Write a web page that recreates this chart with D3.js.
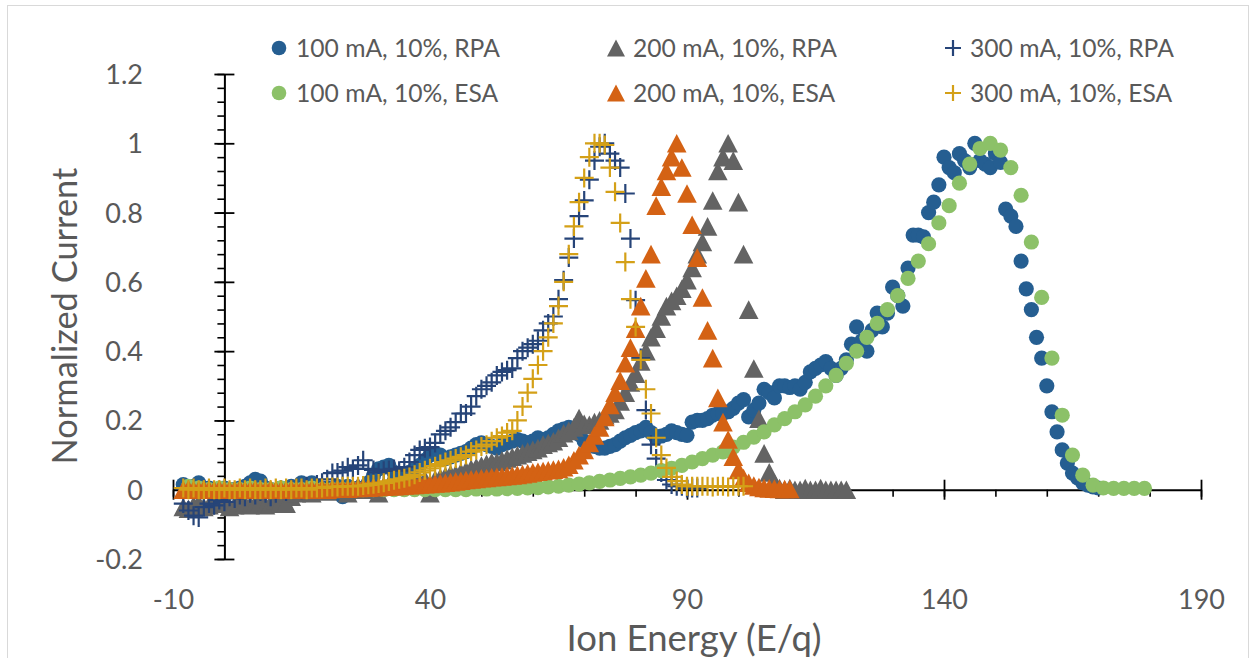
<!DOCTYPE html>
<html>
<head>
<meta charset="utf-8">
<script src="https://cdn.jsdelivr.net/npm/d3@7"></script>
<style>
  html, body { margin: 0; padding: 0; background: #fff; }
  svg { display: block; font-family: Lato, "Open Sans", sans-serif; }
</style>
</head>
<body>
<svg id="chart" width="1253" height="658"></svg>
<script>
// ---- Axis ticks ----
const xTicks = [-10, 40, 90, 140, 190];
const xTickLabels = ["-10", "40", "90", "140", "190"];
const xMinorTicks = [-10, 0, 10, 20, 30, 40, 50, 60, 70, 80, 90, 100, 110, 120, 130, 140, 150, 160, 170, 180, 190];
const yTicks = [-0.2, 0, 0.2, 0.4, 0.6, 0.8, 1, 1.2];
const yTickLabels = ["-0.2", "0", "0.2", "0.4", "0.6", "0.8", "1", "1.2"];
const yMinorTicks = [-0.2, -0.16, -0.12, -0.08, -0.04, 0, 0.04, 0.08, 0.12, 0.16, 0.2, 0.24, 0.28, 0.32, 0.36,
  0.4, 0.44, 0.48, 0.52, 0.56, 0.6, 0.64, 0.68, 0.72, 0.76, 0.8, 0.84, 0.88, 0.92, 0.96, 1, 1.04, 1.08, 1.12, 1.16, 1.2];

// ---- Energy sweeps: first energy and step (E/q) ----
const rpa100Start = -8, rpa100Step = 1;
const esa100Start = -7, esa100Step = 2;
const rpa200Start = -8, rpa200Step = 1;
const esa200Start = -8, esa200Step = 1;
const rpa300Start = -8, rpa300Step = 1;
const esa300Start = -8, esa300Step = 1;

// ---- Normalized current ----
const rpa100 = [
  0.015, 0.005, 0.01, 0.02, 0.0, 0.005, 0.0, -0.005, 0.005, 0.0,
  0.0, 0.005, 0.01, 0.02, 0.03, 0.025, 0.005, 0.0, -0.005, 0.005,
  0.0, 0.01, 0.0, 0.02, 0.015, 0.02, 0.01, 0.0, 0.005, 0.0,
  0.01, -0.02, 0.01, 0.0, 0.005, -0.005, 0.02, 0.04, 0.06, 0.065,
  0.07, 0.05, 0.04, 0.045, 0.05, 0.06, 0.07, 0.085, 0.1, 0.105,
  0.1, 0.09, 0.095, 0.1, 0.105, 0.11, 0.12, 0.13, 0.135, 0.13,
  0.125, 0.12, 0.13, 0.135, 0.14, 0.145, 0.14, 0.135, 0.14, 0.15,
  0.145, 0.15, 0.16, 0.17, 0.175, 0.18, 0.17, 0.16, 0.14, 0.13,
  0.125, 0.12, 0.12, 0.125, 0.13, 0.14, 0.15, 0.157, 0.165, 0.17,
  0.18, 0.165, 0.15, 0.155, 0.16, 0.17, 0.165, 0.16, 0.157, 0.195,
  0.2, 0.2, 0.205, 0.215, 0.22, 0.22, 0.225, 0.235, 0.25, 0.26,
  0.21, 0.23, 0.25, 0.29, 0.28, 0.265, 0.3, 0.3, 0.295, 0.3,
  0.29, 0.31, 0.34, 0.35, 0.36, 0.37, 0.35, 0.33, 0.35, 0.375,
  0.42, 0.47, 0.43, 0.4, 0.46, 0.51, 0.47, 0.51, 0.585, 0.56,
  0.53, 0.64, 0.735, 0.735, 0.73, 0.8, 0.83, 0.88, 0.96, 0.93,
  0.915, 0.97, 0.95, 0.93, 1.0, 0.95, 0.94, 0.93, 0.97, 0.945,
  0.81, 0.79, 0.76, 0.66, 0.58, 0.52, 0.44, 0.38, 0.3, 0.225,
  0.167, 0.115, 0.077, 0.048, 0.034, 0.02, 0.013, 0.008, 0.005
];
const esa100 = [
  0.01, 0.005, 0.0, 0.005, 0.0, 0.0, 0.005, 0.0, 0.0, 0.005,
  0.0, 0.0, 0.005, 0.0, 0.0, 0.0, 0.0, 0.0, 0.0, 0.0,
  0.0, 0.0, 0.0, 0.0, 0.0, 0.0, 0.0, 0.0, 0.002, 0.002,
  0.002, 0.003, 0.004, 0.005, 0.006, 0.008, 0.01, 0.013, 0.016, 0.02,
  0.024, 0.028, 0.033, 0.037, 0.042, 0.048, 0.055, 0.062, 0.07, 0.08,
  0.09, 0.1, 0.109, 0.123, 0.137, 0.152, 0.167, 0.187, 0.205, 0.225,
  0.245, 0.27, 0.3, 0.33, 0.365, 0.4, 0.44, 0.48, 0.52, 0.56,
  0.61, 0.66, 0.71, 0.77, 0.82, 0.885, 0.94, 0.985, 1.0, 0.98,
  0.93, 0.85, 0.715, 0.555, 0.38, 0.215, 0.1, 0.042, 0.013, 0.005,
  0.004, 0.004, 0.004, 0.004
];
const rpa200 = [
  -0.05, -0.055, -0.045, -0.04, -0.05, -0.045, -0.04, -0.035, -0.04, -0.05,
  -0.045, -0.035, -0.04, -0.045, -0.04, -0.035, -0.045, -0.04, -0.03, -0.035,
  -0.04, -0.02, -0.01, -0.005, 0.0, -0.01, 0.0, 0.005, -0.005, 0.0,
  0.005, 0.0, -0.01, 0.005, 0.01, 0.0, 0.005, 0.01, -0.01, 0.01,
  0.015, 0.01, 0.02, 0.015, 0.02, 0.025, 0.02, 0.03, -0.01, 0.03,
  0.035, 0.04, 0.045, 0.045, 0.05, 0.055, 0.06, 0.065, 0.07, 0.075,
  0.08, 0.08, 0.085, 0.09, 0.095, 0.1, 0.105, 0.11, 0.115, 0.12,
  0.13, 0.135, 0.14, 0.15, 0.163, 0.17, 0.18, 0.207, 0.19, 0.187,
  0.195, 0.2, 0.215, 0.22, 0.23, 0.255, 0.28, 0.31, 0.335, 0.37,
  0.4, 0.44, 0.465, 0.5, 0.53, 0.545, 0.56, 0.58, 0.605, 0.64,
  0.68, 0.715, 0.76, 0.835, 0.92, 0.96, 1.0, 0.95, 0.83, 0.68,
  0.52, 0.35, 0.205, 0.105, 0.05, 0.02, 0.005, 0.0, 0.005, 0.0,
  0.0, 0.005, 0.0, 0.0, 0.005, 0.0, 0.0, 0.0, 0.0, 0.0
];
const esa200 = [
  0.0, 0.002, 0.0, 0.0, 0.002, 0.0, 0.0, 0.002, 0.0, 0.0,
  0.0, 0.002, 0.0, 0.0, 0.002, 0.0, 0.0, 0.002, 0.0, 0.0,
  0.0, 0.002, 0.0, 0.002, 0.0, 0.002, 0.0, 0.003, 0.0, 0.003,
  0.003, 0.004, 0.003, 0.005, 0.005, 0.006, 0.006, 0.007, 0.008, 0.009,
  0.01, 0.01, 0.011, 0.012, 0.013, 0.014, 0.015, 0.016, 0.017, 0.018,
  0.019, 0.02, 0.022, 0.024, 0.026, 0.028, 0.03, 0.031, 0.033, 0.034,
  0.036, 0.037, 0.038, 0.04, 0.041, 0.043, 0.045, 0.047, 0.05, 0.052,
  0.054, 0.056, 0.058, 0.06, 0.065, 0.072, 0.085, 0.1, 0.115, 0.135,
  0.157, 0.18, 0.21, 0.245, 0.28, 0.315, 0.365, 0.41, 0.465, 0.53,
  0.61, 0.68, 0.82, 0.875, 0.92, 0.96, 1.0, 0.93, 0.855, 0.765,
  0.67, 0.555, 0.46, 0.38, 0.265, 0.195, 0.145, 0.095, 0.057, 0.034,
  0.02, 0.012, 0.008, 0.005, 0.004, 0.003, 0.002, 0.002, 0.002
];
const rpa300 = [
  -0.04, -0.06, -0.075, -0.08, -0.05, -0.04, -0.045, -0.03, -0.035, -0.02,
  -0.025, -0.015, -0.02, -0.01, -0.015, -0.005, -0.01, -0.02, -0.01, 0.0,
  -0.005, 0.0, 0.005, 0.0, 0.01, 0.005, 0.015, 0.02, 0.03, 0.048,
  0.05, 0.055, 0.065, 0.06, 0.07, 0.085, 0.06, 0.057, 0.05, 0.055,
  0.057, 0.06, 0.055, 0.065, 0.08, 0.1, 0.115, 0.12, 0.123, 0.135,
  0.16, 0.17, 0.18, 0.195, 0.22, 0.22, 0.24, 0.27, 0.29, 0.3,
  0.31, 0.33, 0.34, 0.345, 0.35, 0.38, 0.4, 0.41, 0.42, 0.43,
  0.46, 0.48, 0.5, 0.55, 0.605, 0.67, 0.725, 0.79, 0.835, 0.895,
  0.95, 0.99, 1.0, 0.97, 0.95, 0.93, 0.855, 0.725, 0.547, 0.38,
  0.23, 0.13, 0.09, 0.05, 0.028, 0.015, 0.01, 0.01, 0.005, 0.005,
  0.005
];
const esa300 = [
  0.005, 0.0, 0.005, 0.0, 0.0, 0.005, 0.0, 0.0, 0.005, 0.0,
  0.0, 0.005, 0.0, 0.005, 0.0, 0.0, 0.005, 0.0, 0.005, 0.0,
  0.005, 0.0, 0.005, 0.005, 0.0, 0.005, 0.005, 0.005, 0.008, 0.008,
  0.008, 0.01, 0.01, 0.01, 0.01, 0.012, 0.014, 0.016, 0.018, 0.02,
  0.024, 0.027, 0.03, 0.033, 0.037, 0.043, 0.05, 0.056, 0.062, 0.068,
  0.074, 0.08, 0.085, 0.09, 0.095, 0.1, 0.11, 0.115, 0.125, 0.13,
  0.14, 0.15, 0.155, 0.165, 0.17, 0.2, 0.24, 0.28, 0.32, 0.36,
  0.4, 0.44, 0.48, 0.53, 0.6, 0.68, 0.76, 0.83, 0.9, 0.96,
  1.0, 1.0, 0.995, 0.93, 0.86, 0.77, 0.657, 0.55, 0.47, 0.375,
  0.29, 0.22, 0.15, 0.1, 0.063, 0.037, 0.025, 0.015, 0.01, 0.01,
  0.01, 0.01, 0.01, 0.008, 0.01, 0.01, 0.008, 0.01, 0.01, 0.01
];

// ---- Series (drawing order: later series on top) ----
const seriesNames = ["100 mA, 10%, RPA", "200 mA, 10%, RPA", "300 mA, 10%, RPA",
                     "100 mA, 10%, ESA", "200 mA, 10%, ESA", "300 mA, 10%, ESA"];
const seriesColors = ["#255E91", "#636363", "#264478", "#8CC168", "#D46214", "#D4A017"];
const seriesShapes = ["circle", "triangle", "plus", "circle", "triangle", "plus"];
const seriesValues = [rpa100, rpa200, rpa300, esa100, esa200, esa300];
const seriesStarts = [rpa100Start, rpa200Start, rpa300Start, esa100Start, esa200Start, esa300Start];
const seriesSteps = [rpa100Step, rpa200Step, rpa300Step, esa100Step, esa200Step, esa300Step];

const series = seriesNames.map((name, i) => ({
  name, color: seriesColors[i], shape: seriesShapes[i],
  points: seriesValues[i].map((v, k) => ({ e: seriesStarts[i] + k * seriesSteps[i], v }))
}));

// ---- Layout ----
const W = 1253, H = 658;
const plot = { left: 173, right: 1201, top: 74, bottom: 559 };
const textColor = "#595959";

const svg = d3.select("#chart");
const x = d3.scaleLinear().domain([-10, 190]).range([plot.left, plot.right]);
const y = d3.scaleLinear().domain([-0.2, 1.2]).range([plot.bottom, plot.top]);

// chart area frame
svg.append("rect")
  .attr("x", 7.5).attr("y", 5.5).attr("width", 1241).attr("height", 700)
  .attr("fill", "#fff").attr("stroke", "#d9d9d9").attr("stroke-width", 1);

// marker shapes
function markerPath(shape, s) {
  if (shape === "triangle") return `M0,${-s * 0.95}L${s},${s * 0.95}L${-s},${s * 0.95}Z`;
  if (shape === "plus") return `M${-s},0H${s}M0,${-s}V${s}`;
  return null;
}
function drawMarker(g, shape, color, size) {
  if (shape === "circle") {
    return g.append("circle").attr("r", size).attr("fill", color);
  } else if (shape === "triangle") {
    return g.append("path").attr("d", markerPath("triangle", size)).attr("fill", color);
  } else {
    return g.append("path").attr("d", markerPath("plus", size))
      .attr("fill", "none").attr("stroke", color).attr("stroke-width", 2.2);
  }
}

// ---- Axes (crossing at 0,0) ----
const axisColor = "#000";

// x minor ticks (below the line)
const gxMinor = svg.append("g").attr("transform", `translate(0,${y(0)})`)
  .call(d3.axisBottom(x).tickValues(xMinorTicks).tickSize(7).tickSizeOuter(0).tickFormat(""));
gxMinor.select(".domain").remove();
gxMinor.selectAll(".tick line").attr("stroke", axisColor).attr("stroke-width", 1.6);

// x major ticks (crossing)
const gx = svg.append("g").attr("transform", `translate(0,${y(0)})`)
  .call(d3.axisBottom(x).tickValues(xTicks).tickSize(10).tickSizeOuter(0).tickFormat(""));
gx.selectAll(".tick line").attr("y1", -10).attr("y2", 10).attr("stroke", axisColor).attr("stroke-width", 1.8);
gx.select(".domain").attr("stroke", axisColor).attr("stroke-width", 2);

// y minor ticks (left of the line)
const gyMinor = svg.append("g").attr("transform", `translate(${x(0)},0)`)
  .call(d3.axisLeft(y).tickValues(yMinorTicks).tickSize(7).tickSizeOuter(0).tickFormat(""));
gyMinor.select(".domain").remove();
gyMinor.selectAll(".tick line").attr("stroke", axisColor).attr("stroke-width", 1.6);

// y major ticks (crossing)
const gy = svg.append("g").attr("transform", `translate(${x(0)},0)`)
  .call(d3.axisLeft(y).tickValues(yTicks).tickSize(10).tickSizeOuter(0).tickFormat(""));
gy.selectAll(".tick line").attr("x1", -10).attr("x2", 10).attr("stroke", axisColor).attr("stroke-width", 1.8);
gy.select(".domain").attr("stroke", axisColor).attr("stroke-width", 2);

// tick labels sit at the low edges of the plot
const tickFont = 27;
const gxLab = svg.append("g").attr("transform", `translate(0,600)`)
  .call(d3.axisBottom(x).tickValues(xTicks).tickSize(0).tickSizeOuter(0)
    .tickFormat((d, i) => xTickLabels[i]));
gxLab.select(".domain").remove();
gxLab.selectAll("text").attr("y", 0).attr("dy", "0.35em")
  .attr("fill", textColor).attr("font-size", tickFont).attr("font-family", "Lato");

const gyLab = svg.append("g").attr("transform", `translate(143,0)`)
  .call(d3.axisLeft(y).tickValues(yTicks).tickSize(0).tickSizeOuter(0)
    .tickFormat((d, i) => yTickLabels[i]));
gyLab.select(".domain").remove();
gyLab.selectAll("text").attr("x", 0).attr("dy", "0.35em")
  .attr("fill", textColor).attr("font-size", tickFont).attr("font-family", "Lato");

// ---- Data marks ----
const markerSize = { circle: 7.6, triangle: 9.8, plus: 9.5 };
series.forEach(s => {
  const g = svg.append("g").attr("class", "series");
  s.points.forEach(p => {
    const m = drawMarker(g, s.shape, s.color, markerSize[s.shape]);
    if (s.shape === "circle") m.attr("cx", x(p.e)).attr("cy", y(p.v));
    else m.attr("transform", `translate(${x(p.e)},${y(p.v)})`);
  });
});

// ---- Axis titles ----
function fitFont(sel, target) {
  const w = sel.node().getComputedTextLength();
  const fs = parseFloat(sel.attr("font-size"));
  sel.attr("font-size", fs * target / w);
}
const xTitle = svg.append("text")
  .attr("x", 694).attr("y", 638).attr("dy", "0.35em")
  .attr("text-anchor", "middle").attr("fill", textColor).attr("font-size", 36)
  .text("Ion Energy (E/q)");
fitFont(xTitle, 255);

const yTitle = svg.append("text")
  .attr("transform", "translate(65,316) rotate(-90)").attr("dy", "0.35em")
  .attr("text-anchor", "middle").attr("fill", textColor).attr("font-size", 36)
  .text("Normalized Current");
fitFont(yTitle, 297);

// ---- Legend: three columns, two rows ----
const legendCols = [279, 616, 953];
const legendRows = [48, 93];
const legendMarker = { circle: 7.3, triangle: 9, plus: 8 };
const legendOrder = [0, 1, 2, 3, 4, 5];
let legendFont = null;
legendOrder.forEach((si, k) => {
  const s = series[si];
  const cx = legendCols[k % 3], cy = legendRows[Math.floor(k / 3)];
  const g = svg.append("g").attr("transform", `translate(${cx},${cy})`);
  drawMarker(g, s.shape, s.color, legendMarker[s.shape]);
  const t = g.append("text").attr("x", 17).attr("dy", "0.35em")
    .attr("fill", textColor).attr("font-size", 24).text(s.name);
  if (legendFont === null) { fitFont(t, 204); legendFont = parseFloat(t.attr("font-size")); }
  else t.attr("font-size", legendFont);
});
</script>
</body>
</html>
